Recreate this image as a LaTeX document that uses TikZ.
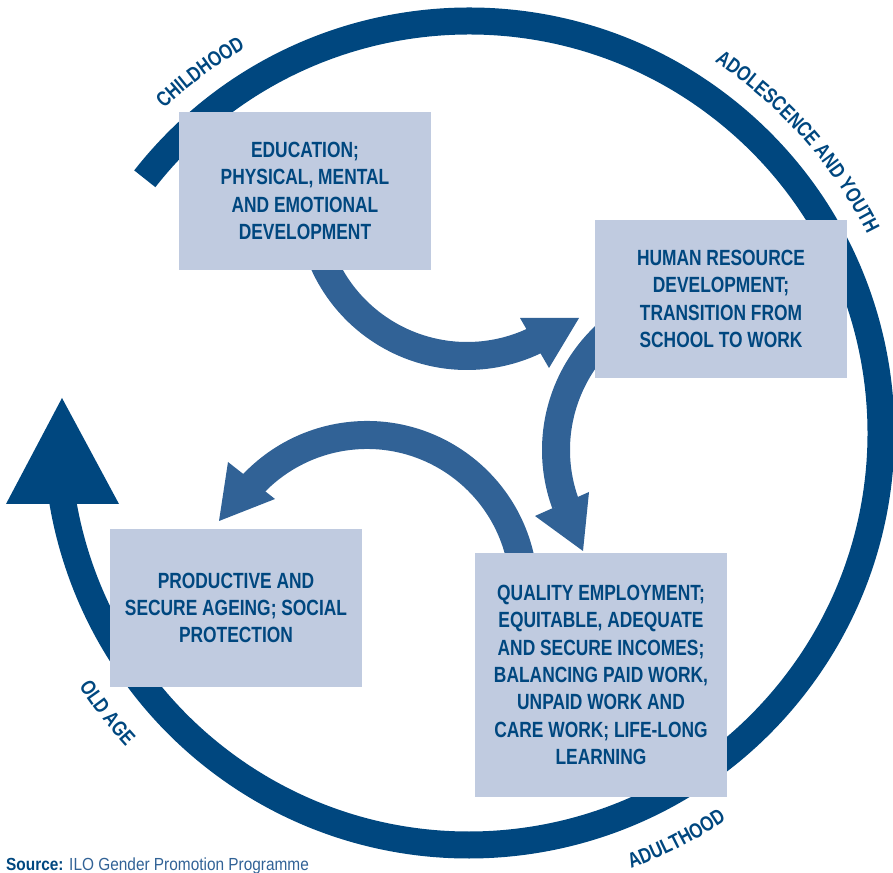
\documentclass[tikz,border=0pt]{standalone}
\usepackage{fontspec}
\usetikzlibrary{decorations.text,calc}
\newfontfamily\boxfont[FakeStretch=0.79]{Liberation Sans}
\newfontfamily\lblfont[FakeStretch=0.8]{Liberation Sans}
\newfontfamily\srcfont[FakeStretch=0.88]{Liberation Sans}
\definecolor{ringblue}{RGB}{0,71,127}
\definecolor{arrowblue}{RGB}{49,98,150}
\definecolor{boxfill}{RGB}{192,203,224}
\definecolor{txtblue}{RGB}{0,71,127}
\begin{document}
\begin{tikzpicture}[x=1pt,y=1pt,
  box/.style={fill=boxfill, minimum width=252pt, minimum height=158pt, inner sep=0pt,
    align=center, text=txtblue, font=\boxfont\bfseries\fontsize{22}{27.4}\selectfont},
  ring/.style={draw=ringblue, line width=27pt},
  flow/.style={draw=arrowblue, line width=28pt},
  flowhead/.style={fill=arrowblue},
  lbl/.style={decorate, decoration={text along path, text align=center, text color=ringblue,
    text={|\lblfont\bfseries\fontsize{21}{25}\selectfont|#1}}}]
\useasboundingbox (0,0) rectangle (893,872);
% life-cycle ring
\coordinate (C) at (469,439);
\coordinate (ringstart) at ($(C)+(141.9:412)$);
\draw[ring] (ringstart) arc[start angle=141.9, end angle=-172, radius=412];
\coordinate (ringtip) at (62,474);
\coordinate (ringbl) at (6,368);
\coordinate (ringbr) at (119,368);
\fill[ringblue] (ringtip) -- (ringbl) -- (ringbr) -- cycle;
% ring labels
\path[lbl=CHILDHOOD] ($(C)+(156.7:445)$) arc[start angle=156.7, end angle=96.7, radius=445];
\path[lbl=ADOLESCENCE AND YOUTH] ($(C)+(71.5:445)$) arc[start angle=71.5, end angle=11.5, radius=445];
\path[lbl=OLD AGE] ($(C)+(192.7:465)$) arc[start angle=192.7, end angle=242.7, radius=465];
\path[lbl=ADULTHOOD] ($(C)+(272:465)$) arc[start angle=272, end angle=322, radius=465];
% inner arrows
\coordinate (c1) at (467,673);
\coordinate (a1s) at ($(c1)+(200:157)$);
\draw[flow] (a1s) arc[start angle=200, end angle=296, radius=157];
\coordinate (h1a) at (520,554);
\coordinate (h1t) at (579,554);
\coordinate (h1b) at (549,504);
\fill[flowhead] (h1a) -- (h1t) -- (h1b) -- cycle;
\coordinate (c2) at (713,422);
\coordinate (a2s) at ($(c2)+(128:157)$);
\draw[flow] (a2s) arc[start angle=128, end angle=200, radius=157];
\coordinate (h2a) at (535,356);
\coordinate (h2b) at (589,380);
\coordinate (h2t) at (583,321);
\fill[flowhead] (h2a) -- (h2t) -- (h2b) -- cycle;
\coordinate (c3) at (367,280);
\coordinate (a3s) at ($(c3)+(10:157)$);
\draw[flow] (a3s) arc[start angle=10, end angle=137, radius=157];
\coordinate (h3a) at (228,410);
\coordinate (h3b) at (275,373);
\coordinate (h3t) at (219,351);
\fill[flowhead] (h3a) -- (h3t) -- (h3b) -- cycle;
% boxes
\node[box] (edu) at (305,681) {EDUCATION;\\PHYSICAL, MENTAL\\AND EMOTIONAL\\DEVELOPMENT};
\node[box] (hrd) at (721,573) {HUMAN RESOURCE\\DEVELOPMENT;\\TRANSITION FROM\\SCHOOL TO WORK};
\node[box] (age) at (236,264) {PRODUCTIVE AND\\SECURE AGEING; SOCIAL\\PROTECTION};
\node[box, minimum height=244pt] (emp) at (601,197) {QUALITY EMPLOYMENT;\\EQUITABLE, ADEQUATE\\AND SECURE INCOMES;\\BALANCING PAID WORK,\\UNPAID WORK AND\\CARE WORK; LIFE-LONG\\LEARNING};
% source
\node[anchor=base west, inner sep=0pt, text=ringblue, font=\srcfont\fontsize{17.5}{20}\selectfont] (src) at (6,2)
  {{\bfseries Source:} \textcolor{arrowblue}{ILO Gender Promotion Programme}};
\end{tikzpicture}
\end{document}
